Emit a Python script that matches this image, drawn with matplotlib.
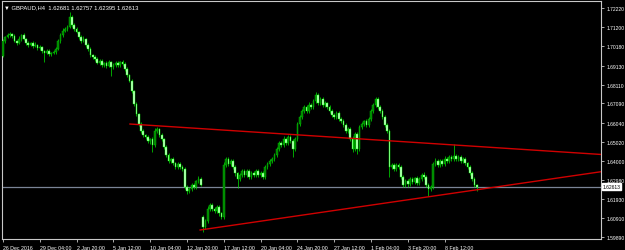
import matplotlib
matplotlib.use("Agg")
import matplotlib.pyplot as plt
import matplotlib.transforms as mtransforms
import numpy as np

plt.rcParams["font.family"] = ["Liberation Sans", "DejaVu Sans"]

# GBPAUD H4 closes, one per bar
CLOSES = [
    1.7046, 1.7067, 1.7078, 1.7083, 1.7073, 1.7046, 1.7035, 1.7056, 1.7078, 1.7056,
    1.7035, 1.7024, 1.7035, 1.7019, 1.7024, 1.7008, 1.7013, 1.6992, 1.6981, 1.6992,
    1.6976, 1.6981, 1.6986, 1.7003, 1.7046, 1.7078, 1.7100, 1.7110, 1.7121, 1.7175,
    1.7132, 1.7110, 1.7094, 1.7067, 1.7046, 1.7056, 1.7024, 1.7003, 1.6970, 1.6959,
    1.6949, 1.6927, 1.6938, 1.6916, 1.6927, 1.6911, 1.6932, 1.6905, 1.6916, 1.6927,
    1.6916, 1.6932, 1.6922, 1.6895, 1.6862, 1.6830, 1.6776, 1.6706, 1.6652, 1.6598,
    1.6561, 1.6539, 1.6528, 1.6507, 1.6517, 1.6485, 1.6561, 1.6571, 1.6539, 1.6517,
    1.6474, 1.6431, 1.6399, 1.6410, 1.6388, 1.6367, 1.6383, 1.6367, 1.6356, 1.6259,
    1.6237, 1.6248, 1.6270, 1.6259, 1.6291, 1.6302, 1.6270, 1.6043, 1.6075, 1.6140,
    1.6162, 1.6140, 1.6129, 1.6151, 1.6119, 1.6097, 1.6377, 1.6410, 1.6383, 1.6399,
    1.6367, 1.6334, 1.6302, 1.6323, 1.6345, 1.6323, 1.6345, 1.6313, 1.6334, 1.6323,
    1.6345, 1.6323, 1.6334, 1.6313, 1.6367, 1.6383, 1.6399, 1.6410, 1.6431, 1.6463,
    1.6496, 1.6485, 1.6517, 1.6496, 1.6528, 1.6507, 1.6463, 1.6517, 1.6598, 1.6636,
    1.6668, 1.6690, 1.6668, 1.6701, 1.6690, 1.6722, 1.6755, 1.6711, 1.6733, 1.6701,
    1.6711, 1.6690, 1.6668, 1.6647, 1.6636, 1.6658, 1.6625, 1.6614, 1.6593, 1.6561,
    1.6571, 1.6517, 1.6463, 1.6544, 1.6463, 1.6582, 1.6598, 1.6614, 1.6593, 1.6625,
    1.6668, 1.6701, 1.6733, 1.6690, 1.6668, 1.6636, 1.6593, 1.6561, 1.6367, 1.6377,
    1.6356, 1.6377, 1.6367, 1.6313, 1.6270, 1.6291, 1.6275, 1.6302, 1.6286, 1.6307,
    1.6280, 1.6302, 1.6323, 1.6313, 1.6270, 1.6248, 1.6259, 1.6383, 1.6399, 1.6377,
    1.6399, 1.6383, 1.6410, 1.6399, 1.6420, 1.6410, 1.6426, 1.6410, 1.6420, 1.6399,
    1.6410, 1.6388, 1.6367, 1.6334, 1.6302, 1.62681, 1.62613,
]
FIRST_OPEN = 1.6965
GAP_OPENS = {87: 1.6097}  # Monday 16 Jan weekend gap

# wick lengths in pips above/below the body
WICK_UP = [
    10, 6, 8, 12, 5, 9, 7, 14, 6, 10,
    8, 12, 6, 9, 15, 7, 10, 8, 6, 12,
    9, 7, 10, 8, 12, 9, 14, 10, 8, 27,
    12, 8, 10, 7, 9, 14, 6, 8, 10, 7,
    9, 12, 8, 10, 6, 9, 11, 7, 10, 8,
    12, 7, 9, 10, 8, 6, 9, 7, 10, 8,
    9, 11, 7, 10, 8, 12, 14, 9, 7, 10,
    8, 11, 9, 7, 12, 8, 10, 9, 11, 8,
    10, 12, 9, 11, 8, 15, 10, 9, 12, 14,
    10, 8, 12, 9, 11, 7, 18, 12, 9, 11,
    8, 10, 7, 12, 9, 11, 8, 10, 9, 12,
    8, 11, 9, 10, 12, 8, 10, 9, 11, 10,
    12, 9, 14, 8, 10, 12, 9, 11, 10, 13,
    9, 12, 10, 14, 8, 11, 16, 9, 12, 10,
    11, 8, 10, 9, 12, 10, 8, 11, 9, 10,
    12, 9, 14, 10, 12, 9, 11, 8, 12, 10,
    9, 12, 11, 10, 8, 9, 11, 10, 12, 9,
    10, 12, 9, 11, 8, 12, 10, 9, 11, 8,
    10, 12, 9, 14, 8, 10, 12, 11, 14, 10,
    12, 9, 15, 10, 12, 9, 64, 11, 10, 12,
    9, 10, 8, 11, 9, 8, 8,
]
WICK_DN = [
    8, 10, 6, 12, 9, 7, 11, 8, 10, 6,
    9, 12, 7, 10, 8, 11, 9, 10, 49, 8,
    12, 9, 7, 10, 8, 11, 9, 7, 10, 8,
    9, 12, 8, 10, 11, 7, 9, 10, 12, 8,
    10, 8, 11, 9, 12, 10, 8, 48, 9, 11,
    8, 10, 9, 12, 10, 8, 11, 9, 12, 10,
    11, 9, 12, 10, 14, 38, 9, 11, 10, 12,
    10, 12, 9, 11, 10, 12, 9, 10, 11, 12,
    14, 10, 12, 9, 11, 10, 8, 27, 12, 10,
    9, 12, 10, 11, 14, 12, 10, 9, 11, 10,
    12, 14, 50, 10, 9, 12, 10, 11, 9, 10,
    12, 10, 9, 11, 10, 12, 9, 10, 11, 9,
    10, 12, 11, 9, 12, 10, 45, 10, 12, 9,
    11, 10, 12, 9, 11, 10, 12, 10, 9, 11,
    10, 12, 11, 10, 9, 12, 10, 11, 12, 10,
    11, 12, 14, 10, 26, 12, 10, 11, 9, 10,
    12, 10, 9, 11, 10, 12, 11, 10, 54, 12,
    10, 12, 9, 11, 10, 12, 14, 10, 12, 11,
    12, 10, 11, 12, 14, 38, 12, 10, 11, 12,
    10, 12, 9, 11, 10, 12, 10, 11, 9, 12,
    10, 12, 11, 10, 12, 11, 22,
]

DATE_LABELS = ["26 Dec 2016", "29 Dec 04:00", "2 Jan 20:00", "5 Jan 12:00", "10 Jan 04:00",
               "12 Jan 20:00", "17 Jan 12:00", "20 Jan 04:00", "24 Jan 20:00", "27 Jan 12:00",
               "1 Feb 04:00", "3 Feb 20:00", "8 Feb 12:00"]
BARS_PER_LABEL = 16
PRICE_TICKS = [1.72220, 1.71200, 1.70180, 1.69130, 1.68110, 1.67090, 1.66040,
               1.65020, 1.64000, 1.62980, 1.61930, 1.60910, 1.59890]
BID = 1.62613
HEADER = "\u25bc GBPAUD,H4  1.62681 1.62757 1.62395 1.62613"

# trendlines: (bar index, price) endpoints
UPPER_LINE = [(55.2, 1.6598), (260.0, 1.6434)]
LOWER_LINE = [(85.7, 1.6027), (260.0, 1.6341)]

closes = np.array(CLOSES)
opens = np.concatenate([[FIRST_OPEN], closes[:-1]])
for k, v in GAP_OPENS.items():
    opens[k] = v
top = np.maximum(opens, closes)
bot = np.minimum(opens, closes)
highs = top + np.array(WICK_UP) * 1e-4
lows = bot - np.array(WICK_DN) * 1e-4
idx = np.arange(len(closes))
bull = closes >= opens

fig = plt.figure(figsize=(6.25, 2.51), dpi=100, facecolor="black")
ax = fig.add_axes([2 / 625, 11 / 251, 599 / 625, 238 / 251], facecolor="black")

ax.vlines(idx, lows, highs, color="#00e600", lw=0.5, zorder=2)
ax.bar(idx[bull], (top - bot)[bull], bottom=bot[bull], width=0.75,
       color="#007f00", edgecolor="#00c800", linewidth=0.3, zorder=3)
ax.bar(idx[~bull], (top - bot)[~bull], bottom=bot[~bull], width=0.75,
       color="#c8ffc8", edgecolor="#00ff00", linewidth=0.3, zorder=3)

for line in (UPPER_LINE, LOWER_LINE):
    (x0, y0), (x1, y1) = line
    ax.plot([x0, x1], [y0, y1], color="#d00000", lw=1.0, zorder=4)

ax.axhline(BID, color="#7a8496", lw=0.9, zorder=1)

ax.set_xlim(-0.43, 260)
ax.set_ylim(1.59784, 1.7261)

ax.yaxis.tick_right()
ax.set_yticks(PRICE_TICKS)
ax.set_yticklabels([f"{p:.5f}" for p in PRICE_TICKS])
ax.tick_params(axis="y", colors="#c8c8c8", labelcolor="white", labelsize=3.6,
               length=2.5, width=0.6, pad=1.2)

xt = np.arange(len(DATE_LABELS)) * BARS_PER_LABEL
ax.set_xticks(xt)
ax.set_xticklabels(DATE_LABELS)
ax.tick_params(axis="x", colors="#c8c8c8", labelcolor="white", labelsize=3.8,
               length=2.5, width=0.6, pad=1.5)
for lab in ax.get_xticklabels():
    lab.set_horizontalalignment("left")

for sp in ax.spines.values():
    sp.set_color("#c8c8c8")
    sp.set_linewidth(0.8)

trans = mtransforms.blended_transform_factory(ax.transAxes, ax.transData)
ax.text(1.003, BID, f"{BID:.5f}", transform=trans, fontsize=3.6, color="black",
        va="center", ha="left", clip_on=False,
        bbox=dict(boxstyle="square,pad=0.12", fc="white", ec="white"))

ax.text(0.003, 0.985, HEADER, transform=ax.transAxes, fontsize=4.2, color="white",
        va="top", ha="left")

fig.savefig("out.png", dpi=100, facecolor="black")
